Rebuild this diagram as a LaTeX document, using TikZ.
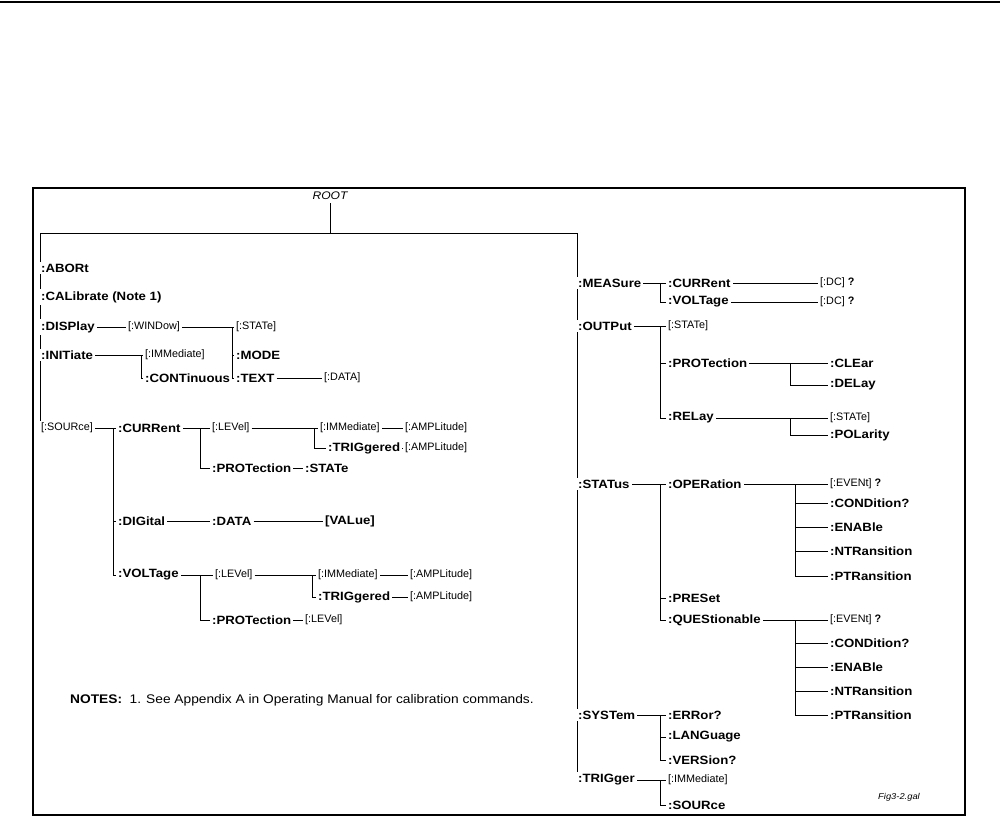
\documentclass[tikz,border=0pt]{standalone}
\usepackage{fontspec}
\setmainfont{Liberation Sans}[FakeStretch=1.1]
\newfontfamily\optfont{Liberation Sans}
\usetikzlibrary{backgrounds}
\tikzset{
  cmd/.style={anchor=west, inner sep=2pt, fill=white, font=\fontsize{12}{14}\selectfont\bfseries},
  opt/.style={anchor=west, inner sep=2pt, fill=white, font=\optfont\fontsize{10.8}{12}\selectfont},
  conn/.style={line width=0.9pt},
}
\begin{document}
\begin{tikzpicture}[x=1pt,y=-1pt]
\useasboundingbox (0,0) rectangle (1000,824);
\draw[line width=2pt] (0,2) -- (1000,2);
\draw[line width=1.8pt] (33,188) rectangle (965,815);
\node[font=\fontsize{11}{12}\selectfont\itshape] (root) at (330,196) {ROOT};
% left tree
\node[cmd] (abort) at (39,268) {:ABORt};
\node[cmd] (cal) at (39,297) {:CALibrate (Note 1)};
\node[cmd] (disp) at (39,327) {:DISPlay};
\node[opt] (win) at (126,327) {[:WINDow]};
\node[opt] (dstate) at (234,327) {[:STATe]};
\node[cmd] (mode) at (234,355) {:MODE};
\node[cmd] (text) at (234,378) {:TEXT};
\node[opt] (tdata) at (322,378) {[:DATA]};
\node[cmd] (init) at (39,355) {:INITiate};
\node[opt] (imm) at (143,355) {[:IMMediate]};
\node[cmd] (cont) at (143,378) {:CONTinuous};
\node[opt] (src) at (39,428) {[:SOURce]};
\node[cmd] (curr) at (116,428) {:CURRent};
\node[cmd] (dig) at (116,521) {:DIGital};
\node[cmd] (volt) at (116,575) {:VOLTage};
\node[opt] (clev) at (210,428) {[:LEVel]};
\node[cmd] (cprot) at (210,468) {:PROTection};
\node[cmd] (cstate) at (303,468) {:STATe};
\node[opt] (cimm) at (318,428) {[:IMMediate]};
\node[cmd] (ctrig) at (326,448) {:TRIGgered};
\node[opt] (camp1) at (403,428) {[:AMPLitude]};
\node[opt] (camp2) at (403,448) {[:AMPLitude]};
\node[cmd] (data) at (210,521) {:DATA};
\node[cmd] (val) at (323,521) {[VALue]};
\node[opt] (vlev) at (213,575) {[:LEVel]};
\node[cmd] (vprot) at (210,620) {:PROTection};
\node[opt] (vplev) at (303,620) {[:LEVel]};
\node[opt] (vimm) at (316,575) {[:IMMediate]};
\node[cmd] (vtrig) at (316,597) {:TRIGgered};
\node[opt] (vamp1) at (408,575) {[:AMPLitude]};
\node[opt] (vamp2) at (408,597) {[:AMPLitude]};
% right tree
\node[cmd] (meas) at (576,283) {:MEASure};
\node[cmd] (mcurr) at (666,283) {:CURRent};
\node[cmd] (mvolt) at (666,302) {:VOLTage};
\node[opt] (dc1) at (818,283) {[:DC] \textbf{?}};
\node[opt] (dc2) at (818,302) {[:DC] \textbf{?}};
\node[cmd] (outp) at (576,326) {:OUTPut};
\node[opt] (ostate) at (666,326) {[:STATe]};
\node[cmd] (oprot) at (666,363) {:PROTection};
\node[cmd] (clear) at (828,363) {:CLEar};
\node[cmd] (delay) at (828,385) {:DELay};
\node[cmd] (relay) at (666,418) {:RELay};
\node[opt] (rstate) at (828,418) {[:STATe]};
\node[cmd] (pol) at (828,435) {:POLarity};
\node[cmd] (stat) at (576,484) {:STATus};
\node[cmd] (oper) at (666,484) {:OPERation};
\node[opt] (oev) at (828,484) {[:EVENt] \textbf{?}};
\node[cmd] (ocond) at (828,503) {:CONDition?};
\node[cmd] (oen) at (828,527) {:ENABle};
\node[cmd] (ont) at (828,551) {:NTRansition};
\node[cmd] (opt) at (828,576) {:PTRansition};
\node[cmd] (pres) at (666,598) {:PRESet};
\node[cmd] (ques) at (666,620) {:QUEStionable};
\node[opt] (qev) at (828,620) {[:EVENt] \textbf{?}};
\node[cmd] (qcond) at (828,643) {:CONDition?};
\node[cmd] (qen) at (828,667) {:ENABle};
\node[cmd] (qnt) at (828,691) {:NTRansition};
\node[cmd] (qpt) at (828,715) {:PTRansition};
\node[cmd] (syst) at (576,715) {:SYSTem};
\node[cmd] (err) at (666,715) {:ERRor?};
\node[cmd] (lang) at (666,737) {:LANGuage};
\node[cmd] (vers) at (666,760) {:VERSion?};
\node[cmd] (trig) at (576,780) {:TRIGger};
\node[opt] (timm) at (666,780) {[:IMMediate]};
\node[cmd] (tsrc) at (666,805) {:SOURce};
% notes
\node[anchor=west, inner sep=0pt, font=\fontsize{12.5}{14}\selectfont] (notes) at (70,700) {\textbf{\fontsize{12.5}{14}\selectfont NOTES:}\hspace{0.6em}1. See Appendix A in Operating Manual for calibration commands.};
\node[anchor=west, inner sep=0pt, font=\fontsize{8.5}{10}\selectfont\itshape] (fig) at (878,797) {Fig3-2.gal};
% connectors
\begin{scope}[on background layer, conn]
\coordinate (top) at (330,233);
\coordinate (tl) at (40,233);
\coordinate (tr) at (577,233);
\draw (root.south) -- (top);
\draw (tl) -- (tr);
\draw (tl) -- (src.north -| tl);
\draw (tr) -- (trig.north -| tr);
% display
\coordinate (dbus) at (232,0);
\draw (disp.east) -- (win.west);
\draw (win.east) -- (dstate.west);
\draw (dbus |- dstate) |- (mode.west);
\draw (dbus |- dstate) |- (text.west);
\draw (text.east) -- (tdata.west);
% initiate
\coordinate (ibus) at (141,0);
\draw (init.east) -- (imm.west);
\draw (ibus |- imm) |- (cont.west);
% source
\coordinate (sbus) at (113,0);
\draw (src.east) -- (curr.west);
\draw (sbus |- curr) |- (dig.west);
\draw (sbus |- curr) |- (volt.west);
% current
\coordinate (cbus) at (200,0);
\draw (curr.east) -- (clev.west);
\draw (cbus |- clev) |- (cprot.west);
\draw (cprot.east) -- (cstate.west);
\coordinate (clbus) at (314,0);
\draw (clev.east) -- (cimm.west);
\draw (clbus |- cimm) |- (ctrig.west);
\draw (cimm.east) -- (camp1.west);
\draw (ctrig.east) -- (camp2.west);
% digital
\draw (dig.east) -- (data.west);
\draw (data.east) -- (val.west);
% voltage
\coordinate (vbus) at (200,0);
\draw (volt.east) -- (vlev.west);
\draw (vbus |- vlev) |- (vprot.west);
\draw (vprot.east) -- (vplev.west);
\coordinate (vlbus) at (312,0);
\draw (vlev.east) -- (vimm.west);
\draw (vlbus |- vimm) |- (vtrig.west);
\draw (vimm.east) -- (vamp1.west);
\draw (vtrig.east) -- (vamp2.west);
% measure
\coordinate (mbus) at (660,0);
\draw (meas.east) -- (mcurr.west);
\draw (mbus |- mcurr) |- (mvolt.west);
\draw (mcurr.east) -- (dc1.west);
\draw (mvolt.east) -- (dc2.west);
% output
\coordinate (obus) at (660,0);
\draw (outp.east) -- (ostate.west);
\draw (obus |- ostate) |- (oprot.west);
\draw (obus |- ostate) |- (relay.west);
\coordinate (pbus) at (790,0);
\draw (oprot.east) -- (clear.west);
\draw (pbus |- clear) |- (delay.west);
\draw (relay.east) -- (rstate.west);
\draw (pbus |- rstate) |- (pol.west);
% status
\coordinate (stbus) at (660,0);
\draw (stat.east) -- (oper.west);
\draw (stbus |- oper) |- (pres.west);
\draw (stbus |- oper) |- (ques.west);
\coordinate (opbus) at (795,0);
\draw (oper.east) -- (oev.west);
\draw (opbus |- oev) |- (ocond.west);
\draw (opbus |- oev) |- (oen.west);
\draw (opbus |- oev) |- (ont.west);
\draw (opbus |- oev) |- (opt.west);
\draw (ques.east) -- (qev.west);
\draw (opbus |- qev) |- (qcond.west);
\draw (opbus |- qev) |- (qen.west);
\draw (opbus |- qev) |- (qnt.west);
\draw (opbus |- qev) |- (qpt.west);
% system
\draw (syst.east) -- (err.west);
\draw (stbus |- err) |- (lang.west);
\draw (stbus |- err) |- (vers.west);
% trigger
\draw (trig.east) -- (timm.west);
\draw (stbus |- timm) |- (tsrc.west);
\end{scope}
\end{tikzpicture}
\end{document}
